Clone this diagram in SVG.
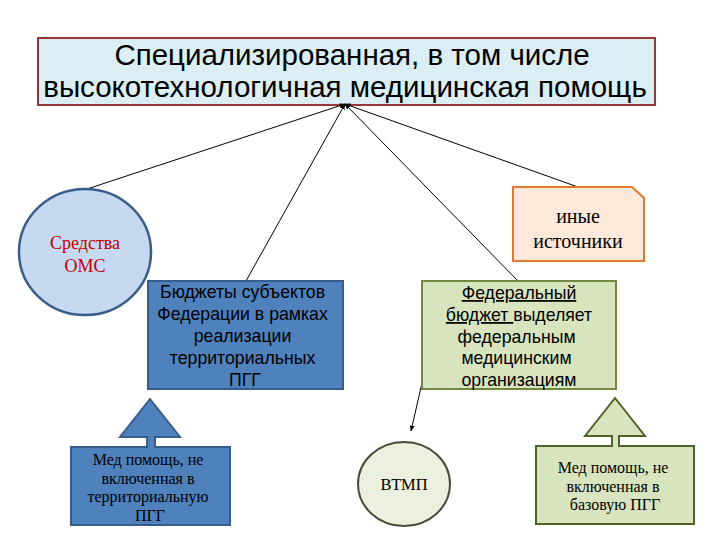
<svg xmlns="http://www.w3.org/2000/svg" width="720" height="540" viewBox="0 0 720 540">
<defs>
<style>
.sans{font-family:"Liberation Sans",Arial,sans-serif;fill:#000;text-anchor:middle}
.serif{font-family:"Liberation Serif","Times New Roman",serif;text-anchor:middle}
.conn{stroke:#000;stroke-width:1;fill:none}
.blue{fill:#4f81bd;stroke:#385d8a;stroke-width:2}
.green{fill:#d7e4bd;stroke:#71893f;stroke-width:2}
.dgreen{fill:#d7e4bd;stroke:#4f6228;stroke-width:2}
</style>
<marker id="ah" viewBox="0 0 10 10" refX="9" refY="5" markerWidth="6" markerHeight="6" orient="auto" markerUnits="userSpaceOnUse">
<path d="M0,1 L10,5 L0,9 Z" fill="#000"/>
</marker>
</defs>
<rect width="720" height="540" fill="#fff"/>

<g id="title">
<rect x="38" y="38" width="617" height="67" fill="#dbeef4" stroke="#953735" stroke-width="2"/>
<text class="sans" x="352" y="65" font-size="29.5">Специализированная, в том числе</text>
<text class="sans" x="345" y="97" font-size="29.5">высокотехнологичная медицинская помощь</text>
</g>

<g id="connectors">
<line class="conn" x1="87" y1="189" x2="345" y2="104" marker-end="url(#ah)"/>
<line class="conn" x1="246" y1="281" x2="345" y2="104" marker-end="url(#ah)"/>
<line class="conn" x1="518" y1="281" x2="345" y2="104" marker-end="url(#ah)"/>
<line class="conn" x1="578" y1="187" x2="345" y2="104" marker-end="url(#ah)"/>
<line class="conn" x1="440" y1="304" x2="411" y2="431" marker-end="url(#ah)"/>
</g>

<g id="oms">
<ellipse cx="85" cy="252" rx="66" ry="63" fill="#c6d9f1" stroke="#385d8a" stroke-width="2.5"/>
<text class="serif" x="85" y="249" font-size="18" fill="#c00000">Средства</text>
<text class="serif" x="85" y="272" font-size="18" fill="#c00000">ОМС</text>
</g>

<g id="budgets">
<rect class="blue" x="148" y="281" width="195" height="108"/>
<text class="sans" font-size="17.7">
<tspan x="245" y="298">Бюджеты субъектов</tspan>
<tspan x="245" y="320">Федерации в рамках</tspan>
<tspan x="245" y="342">реализации</tspan>
<tspan x="245" y="364">территориальных</tspan>
<tspan x="245" y="386">ПГГ</tspan>
</text>
</g>

<g id="other">
<path d="M513,187 L632,187 L644,198 L644,261 L513,261 Z" fill="#fde9d9" stroke="#e07a32" stroke-width="2"/>
<text class="serif" x="578" y="223" font-size="20" fill="#000">иные</text>
<text class="serif" x="578" y="248" font-size="20" fill="#000">источники</text>
</g>

<g id="federal">
<rect class="green" x="422" y="281" width="194" height="108"/>
<text class="sans" font-size="17.7">
<tspan x="519" y="299" text-decoration="underline">Федеральный</tspan>
</text>
<text class="sans" font-size="17.7" x="519" y="321"><tspan text-decoration="underline">бюджет </tspan>выделяет</text>
<text class="sans" font-size="17.7">
<tspan x="519" y="343">федеральным</tspan>
<tspan x="519" y="364">медицинским</tspan>
<tspan x="519" y="386">организациям</tspan>
</text>
</g>

<g id="vtmp">
<ellipse cx="404" cy="484" rx="46" ry="42" fill="#ebf1de" stroke="#4a4a3a" stroke-width="2"/>
<text class="serif" x="404" y="490" font-size="16.5" fill="#000">ВТМП</text>
</g>

<g id="callout-left">
<path class="blue" d="M71,447 L147,447 L147,437 L120,437 L150,399 L180,437 L155,437 L155,447 L230,447 L230,525 L71,525 Z"/>
<text class="serif" font-size="16" fill="#000">
<tspan x="150" y="465">Мед помощь, не</tspan>
<tspan x="150" y="484">включенная в</tspan>
<tspan x="150" y="502">территориальную</tspan>
<tspan x="150" y="521">ПГГ</tspan>
</text>
</g>

<g id="callout-right">
<path class="dgreen" d="M536,446 L612,446 L612,436 L585,436 L615,398 L645,436 L619,436 L619,446 L694,446 L694,524 L536,524 Z"/>
<text class="serif" font-size="16" fill="#000">
<tspan x="615" y="473">Мед помощь, не</tspan>
<tspan x="615" y="492">включенная в</tspan>
<tspan x="615" y="510">базовую ПГГ</tspan>
</text>
</g>
</svg>
